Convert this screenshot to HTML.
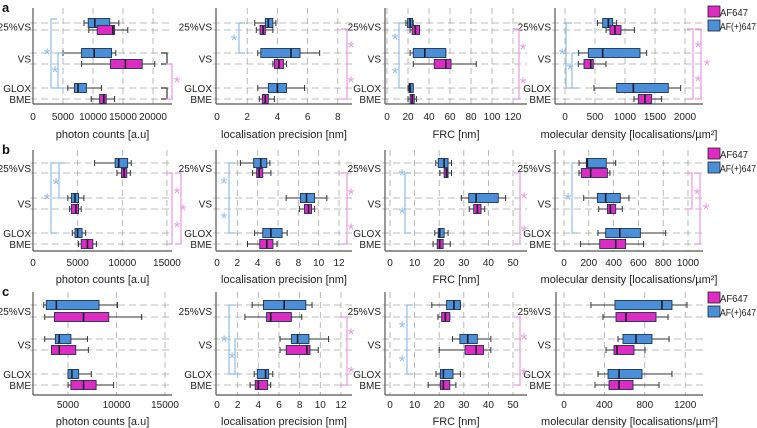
<!DOCTYPE html>
<html><head><meta charset="utf-8">
<style>
html,body{margin:0;padding:0;background:#fff;}
svg{display:block;font-family:"Liberation Sans",sans-serif;}
</style></head>
<body>
<svg id="fig" width="757" height="428" viewBox="0 0 757 428" xmlns="http://www.w3.org/2000/svg"></svg>
<script>
// ---------- DATA ----------
const categories = ["25%VS","VS","GLOX BME"];
const seriesNames = ["AF647","AF(+)647"];
// each entry: [whiskerLow, q1, median, q3, whiskerHigh]
const photonsA_blue = [[8500,9200,10300,12800,14300],[5000,8100,10200,13100,13800],[5800,6900,7500,8900,11400]];
const photonsA_mag  = [[9300,10700,13300,13600,15800],[8100,12900,15400,18200,20300],[9700,11100,11800,12200,13600]];
const precA_blue = [[2.5,3.2,3.4,3.7,3.9],[2.7,2.9,4.9,5.5,6.8],[2.7,3.4,4.0,4.6,5.8]];
const precA_mag  = [[2.6,2.85,3.05,3.2,3.7],[3.7,3.8,4.1,4.4,4.6],[2.8,3.0,3.2,3.4,3.8]];
const frcA_blue = [[18,19.6,22,24.3,25],[22,25,36,56,56],[20,21,22,25,25]];
const frcA_mag  = [[22,24,27,31,31],[25,45,56,61,85],[20,22,24,26,28]];
const densA_blue = [[540,628,722,794,861],[228,389,628,1250,1361],[483,861,1139,1722,1928]];
const densA_mag  = [[683,750,833,933,1156],[222,317,428,472,683],[1150,1222,1333,1444,1611]];

const photonsB_blue = [[6900,9200,9600,10600,11000],[3900,4300,4700,5100,5700],[4400,4700,5000,5500,5900]];
const photonsB_mag  = [[9400,9900,10200,10500,10900],[4100,4300,4800,5100,5400],[5100,5400,6100,6700,7100]];
const precB_blue = [[2.3,3.6,4.3,4.9,5.2],[6.8,8.2,8.8,9.6,10.8],[3.7,4.5,5.3,6.4,6.9]];
const precB_mag  = [[3.5,3.9,4.15,4.5,5.3],[8.1,8.6,9.0,9.3,9.6],[3.0,4.2,4.9,5.5,5.9]];
const frcB_blue = [[18.6,19.6,22,23.6,25],[29,32,35,44,47],[18.2,19.6,20.2,22,23.6]];
const frcB_mag  = [[20.3,22,23,23.6,25],[32.2,34,35.5,37,38.5],[17.5,19.2,20.2,21.6,24.5]];
const densB_blue = [[121,180,188,341,417],[159,269,336,454,524],[274,336,450,616,820]];
const densB_mag  = [[121,140,215,350,370],[280,350,374,417,470],[134,288,417,497,642]];

const photonsC_blue = [[2500,2760,3800,8200,10100],[2600,3700,4100,5300,7000],[5000,5000,5400,6100,7400]];
const photonsC_mag  = [[2600,3600,6600,9200,12600],[3300,3300,4100,5800,7100],[5000,5300,6600,7900,9700]];
const precC_blue = [[3.4,4.5,6.5,8.6,9.2],[6.1,7.2,7.8,8.9,10.8],[3.6,3.9,4.7,5.0,5.4]];
const precC_mag  = [[2.7,4.8,5.2,7.2,8.2],[6.1,6.7,8.7,9.0,9.8],[3.2,3.7,4.0,4.9,5.2]];
const frcC_blue = [[17,23,26,28.6,28.6],[25.4,28.4,31.6,35.5,41],[18.7,20.5,21.7,25.6,28.6]];
const frcC_mag  = [[19.5,21,22.5,24.3,24.3],[20,30.5,35,38,41],[15.5,20.5,21.7,24.3,26.8]];
const densC_blue = [[267,505,970,1069,1218],[535,584,713,871,1040],[337,436,545,772,1069]];
const densC_mag  = [[386,515,614,911,1030],[416,495,525,693,802],[307,446,545,683,941]];

const ticksPhotonsA = [0,5000,10000,15000,20000];
const ticksPhotonsB = [0,5000,10000,15000];
const ticksPhotonsC = [5000,10000,15000];
const ticksPrecA = [0,2,4,6,8];
const ticksPrecBC = [0,2,4,6,8,10,12];
const ticksFrcA = [0,20,40,60,80,100,120];
const ticksFrcBC = [0,10,20,30,40,50];
const ticksDensA = [0,500,1000,1500,2000];
const ticksDensB = [0,200,400,600,800,1000];
const ticksDensC = [0,400,800,1200];

// ---------- LAYOUT ----------
const BLUE="#4a8fd8", MAG="#dd2bc4", BSTROKE="#1c3350", GRID="#a8a8a8";
const rows = [
 {label:"a", top:8,  bottom:104, tickY:120, titleY:138, ys:[[23,30],[53,64],[88,99]], legendY:6},
 {label:"b", top:150, bottom:251, tickY:266, titleY:283, ys:[[163,173],[198,209],[233,244]], legendY:148},
 {label:"c", top:292, bottom:395, tickY:408, titleY:425, ys:[[305,317],[339,350],[374,385]], legendY:292}
];
const titles=["photon counts [a.u]","localisation precision [nm]","FRC [nm]","molecular density [localisations/\u00b5m\u00b2]"];
const panels = [
 {r:0,c:0,zero:33,ppu:0.006,left:33,right:172,ticks:ticksPhotonsA,blue:photonsA_blue,mag:photonsA_mag,labX:31},
 {r:0,c:1,zero:217,ppu:15.1,left:216,right:352,ticks:ticksPrecA,blue:precA_blue,mag:precA_mag,labX:212},
 {r:0,c:2,zero:387,ppu:1.05,left:385,right:527,ticks:ticksFrcA,blue:frcA_blue,mag:frcA_mag,labX:381},
 {r:0,c:3,zero:565,ppu:0.06,left:555,right:703,ticks:ticksDensA,blue:densA_blue,mag:densA_mag,labX:551},
 {r:1,c:0,zero:33,ppu:0.00893,left:33,right:172,ticks:ticksPhotonsB,blue:photonsB_blue,mag:photonsB_mag,labX:31},
 {r:1,c:1,zero:217,ppu:10.17,left:216,right:352,ticks:ticksPrecBC,blue:precB_blue,mag:precB_mag,labX:212},
 {r:1,c:2,zero:390,ppu:2.46,left:385,right:527,ticks:ticksFrcBC,blue:frcB_blue,mag:frcB_mag,labX:381},
 {r:1,c:3,zero:564,ppu:0.124,left:555,right:703,ticks:ticksDensB,blue:densB_blue,mag:densB_mag,labX:551},
 {r:2,c:0,zero:19.5,ppu:0.0097,left:33,right:172,ticks:ticksPhotonsC,blue:photonsC_blue,mag:photonsC_mag,labX:31},
 {r:2,c:1,zero:217,ppu:10.33,left:216,right:352,ticks:ticksPrecBC,blue:precC_blue,mag:precC_mag,labX:212},
 {r:2,c:2,zero:390,ppu:2.46,left:385,right:527,ticks:ticksFrcBC,blue:frcC_blue,mag:frcC_mag,labX:381},
 {r:2,c:3,zero:564,ppu:0.101,left:556,right:703,ticks:ticksDensC,blue:densC_blue,mag:densC_mag,labX:551}
];

const NS="http://www.w3.org/2000/svg";
const svg=document.getElementById("fig");
function mk(tag,attrs,parent,text){
  const e=document.createElementNS(NS,tag);
  for(const k in attrs) e.setAttribute(k,attrs[k]);
  if(text!==undefined) e.textContent=text;
  (parent||svg).appendChild(e);
  return e;
}

rows.forEach((row,ri)=>{
  const t=mk("text",{x:2,y:row.top+4,"font-size":13,"font-weight":"bold",fill:"#111"},svg,row.label);
  
  
  const lg=mk("g",{});
  
  
  const e1=mk("rect",{x:708,y:row.legendY,width:12,height:11,fill:MAG,stroke:"#222","stroke-width":0.8},lg);
  
  
  const l1=mk("text",{x:720,y:row.legendY+10,"font-size":10,fill:"#222",textLength:28,lengthAdjust:"spacingAndGlyphs"},lg,seriesNames[0]);
  
  
  const e2=mk("rect",{x:708,y:row.legendY+14,width:12,height:11,fill:BLUE,stroke:"#222","stroke-width":0.8},lg);
  
  
  const l2=mk("text",{x:720,y:row.legendY+24,"font-size":10,fill:"#222",textLength:36,lengthAdjust:"spacingAndGlyphs"},lg,seriesNames[1]);
  
  
});

panels.forEach((p,pi)=>{
  const row=rows[p.r];
  const xs=v=>p.zero+v*p.ppu;
  const g=mk("g",{});
  
  
  p.ticks.forEach(tv=>{
    const x=xs(tv);
    if(x>p.left+1){
      const gl=mk("line",{x1:x,x2:x,y1:row.top,y2:row.bottom,stroke:GRID,"stroke-width":0.8,"stroke-dasharray":"6,4"},g);
      
      
    }
    const tl=mk("text",{x:x,y:row.tickY,"font-size":10,"text-anchor":"middle",fill:"#222"},g,String(tv));
    
    
  });
  row.ys.forEach(pair=>pair.forEach(y=>{
    const hl=mk("line",{x1:p.left-3,x2:p.right,y1:y,y2:y,stroke:GRID,"stroke-width":0.8,"stroke-dasharray":"7,4"},g);
    
    
  }));
  const ay=mk("line",{x1:p.left,x2:p.left,y1:row.top,y2:row.bottom,stroke:"#555","stroke-width":1.2},g);
  
  
  const ax=mk("line",{x1:p.left,x2:p.right,y1:row.bottom,y2:row.bottom,stroke:"#555","stroke-width":1.2},g);
  
  
  const at=mk("text",{x:(p.left+p.right)/2,y:row.titleY,"font-size":11,"text-anchor":"middle",fill:"#222"},g,titles[p.c]);
  
  
  const catLab=[[ "25%VS", (row.ys[0][0]+row.ys[0][1])/2 ],["VS",(row.ys[1][0]+row.ys[1][1])/2],["GLOX",row.ys[2][0]],["BME",row.ys[2][1]]];
  catLab.forEach(cl=>{
    const tt=mk("text",{x:p.labX,y:cl[1]+4,"font-size":10,"text-anchor":"end",fill:"#222"},g,cl[0]);
    
    
  });
  function box(d,y,fill,name){
    const bg=mk("g",{},g);
    
    
    const h=9;
    mk("line",{x1:xs(d[0]),x2:xs(d[4]),y1:y,y2:y,stroke:"#333","stroke-width":1},bg);
    mk("line",{x1:xs(d[0]),x2:xs(d[0]),y1:y-3,y2:y+3,stroke:"#333","stroke-width":1},bg);
    mk("line",{x1:xs(d[4]),x2:xs(d[4]),y1:y-3,y2:y+3,stroke:"#333","stroke-width":1},bg);
    mk("rect",{x:xs(d[1]),y:y-h/2,width:Math.max(1,xs(d[3])-xs(d[1])),height:h,fill:fill,stroke:BSTROKE,"stroke-width":0.9},bg);
    mk("line",{x1:xs(d[2]),x2:xs(d[2]),y1:y-h/2,y2:y+h/2,stroke:"#1a1a2a","stroke-width":1.6},bg);
  }
  for(let i=0;i<3;i++){
    box(p.blue[i],row.ys[i][0],BLUE,'box-afplus647-'+categories[i].replace(/\W+/g,'-').toLowerCase());
    box(p.mag[i],row.ys[i][1],MAG,'box-af647-'+categories[i].replace(/\W+/g,'-').toLowerCase());
  }
});

// ---------- significance brackets (annotations) ----------
const LB="#8fbde8", LM="#e79ae0";
function bracket(x,y1,y2,col,dir,stars){
  const g=mk("g",{});
  
  
  const d=dir*6;
  mk("polyline",{points:`${x+d},${y1} ${x},${y1} ${x},${y2} ${x+d},${y2}`,fill:"none",stroke:col,"stroke-width":1.2},g);
  stars.forEach(s=>mk("text",{x:s[0],y:s[1]+7,"font-size":17,fill:col,"text-anchor":"middle"},g,"*"));
}
bracket(51,19,88,LB,1,[[47,53]]); bracket(58,53,88,LB,1,[[55,71]]);
bracket(167,53,64,"#333",-1,[]); bracket(167,88,99,"#333",-1,[]);
bracket(172,64,99,LM,-1,[[177,81]]);
bracket(239,23,53,LB,1,[[234,39]]);
bracket(347,29,99,LM,-1,[[351,46],[351,81]]);
bracket(399,23,88,LB,1,[[395,38],[395,72]]);
bracket(519,29,99,LM,-1,[[523,48],[523,82]]);
bracket(566,23,88,LB,1,[[562,53]]); bracket(572,53,88,LB,1,[[570,68]]);
bracket(693,29,99,LM,-1,[[698,46],[698,80]]); bracket(701,29,99,LM,-1,[[707,64]]);
bracket(51,163,233,LB,1,[[47,198]]); bracket(59,163,198,LB,1,[[56,183]]);
bracket(172,173,244,LM,-1,[[177,192],[177,226]]); bracket(181,173,244,LM,-1,[[183,209]]);
bracket(229,163,233,LB,1,[[224,182],[224,217]]);
bracket(347,173,244,LM,-1,[[351,193],[351,228]]);
bracket(405,173,233,LB,1,[[402,174],[402,212]]);
bracket(520,173,244,LM,-1,[[524,197],[524,230]]);
bracket(572,163,233,LB,1,[[568,198]]);
bracket(692,173,209,LM,-1,[[697,193]]); bracket(700,173,244,LM,-1,[[706,208]]);
bracket(229,305,374,LB,1,[[224,340]]); bracket(235,339,374,LB,1,[[232,357]]);
bracket(347,317,385,LM,-1,[[351,333],[351,371]]);
bracket(407,305,374,LB,1,[[402,326],[402,360]]);
bracket(520,317,385,LM,-1,[[524,338],[524,373]]);
</script>
</body></html>
